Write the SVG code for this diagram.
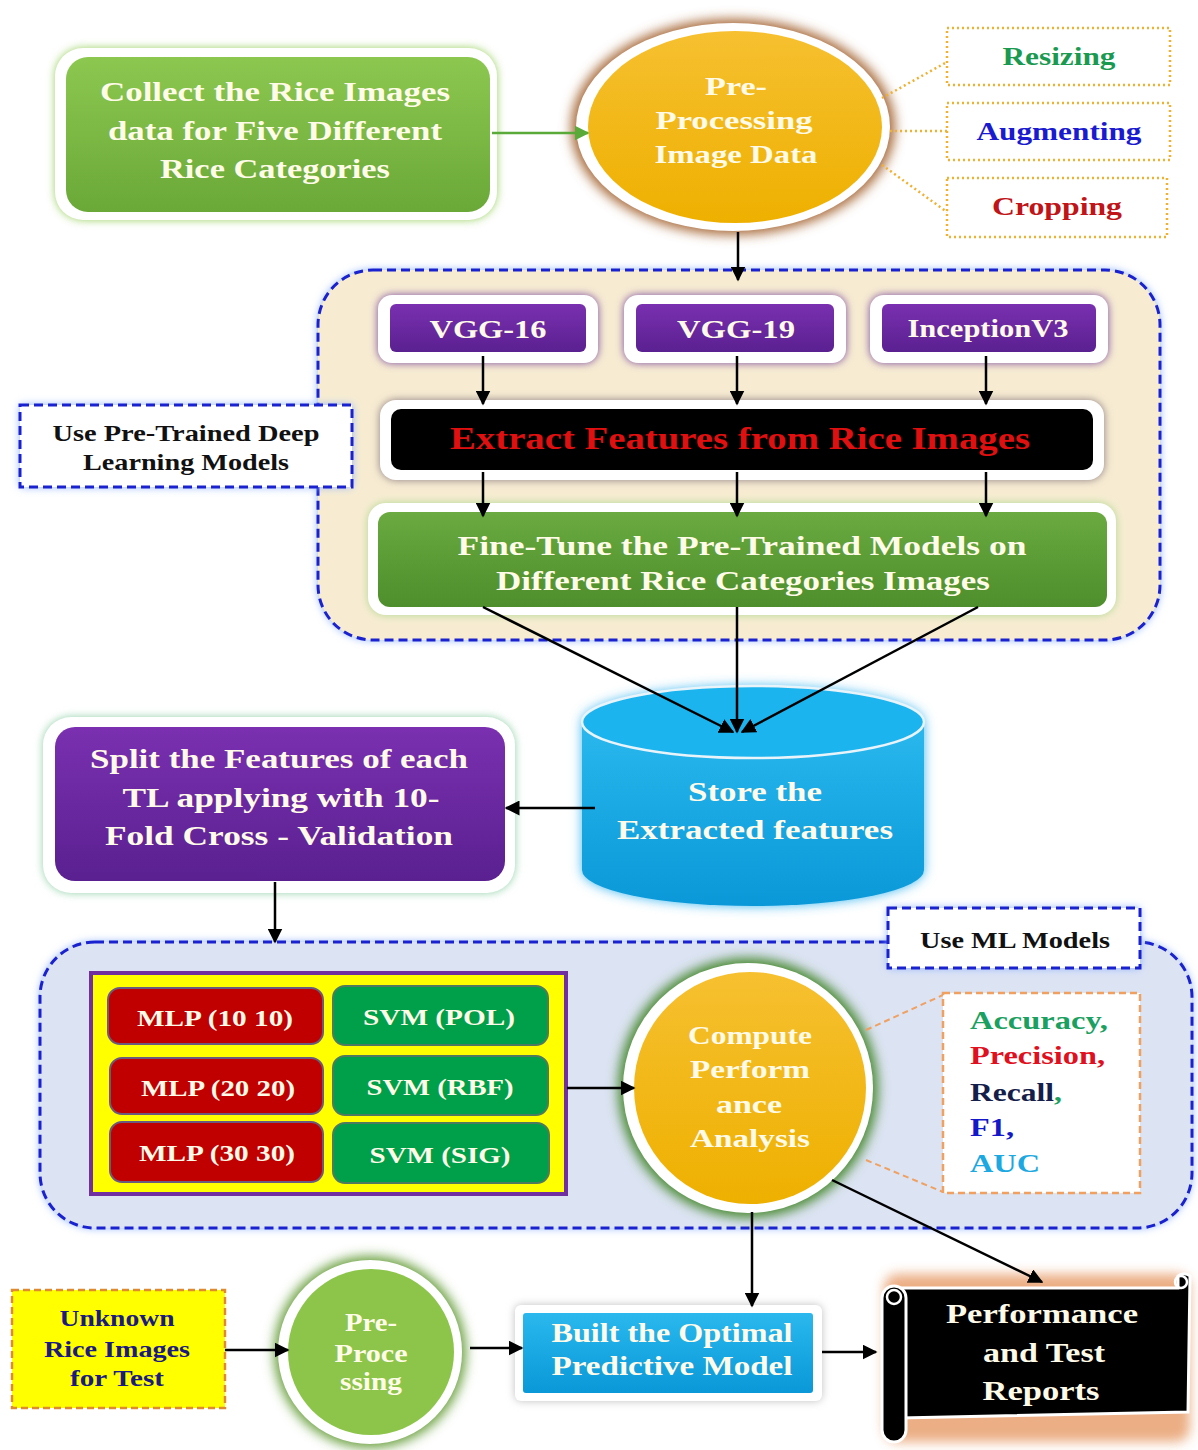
<svg xmlns="http://www.w3.org/2000/svg" width="1198" height="1450" viewBox="0 0 1198 1450">
<defs>
<style>
text{font-family:"Liberation Serif","Times New Roman",serif;font-weight:bold;text-anchor:middle}
.w{fill:#fffbe8}
.k{fill:#111}
.ln{stroke:#000;stroke-width:2.5;fill:none}
.blue-dash{fill:none;stroke:#1a22d0;stroke-width:3;stroke-dasharray:9 5}
.st{text-anchor:start}
</style>
<filter id="glowG" x="-20%" y="-20%" width="140%" height="140%"><feGaussianBlur stdDeviation="6"/></filter>
<filter id="glowS" x="-20%" y="-20%" width="140%" height="140%"><feGaussianBlur stdDeviation="4"/></filter>
<marker id="ah" viewBox="0 0 10 10" refX="9" refY="5" markerWidth="6" markerHeight="6" orient="auto"><path d="M0,0 L10,5 L0,10 z" fill="#000"/></marker>
<marker id="ahg" viewBox="0 0 10 10" refX="9" refY="5" markerWidth="6" markerHeight="6" orient="auto"><path d="M0,0 L10,5 L0,10 z" fill="#5aaa3a"/></marker>
<linearGradient id="gGreen" x1="0" y1="0" x2="0" y2="1"><stop offset="0" stop-color="#8cc850"/><stop offset="1" stop-color="#6aa838"/></linearGradient>
<linearGradient id="gPurple" x1="0" y1="0" x2="0" y2="1"><stop offset="0" stop-color="#7a30b0"/><stop offset="1" stop-color="#5a2090"/></linearGradient>
<linearGradient id="gYellow" x1="0" y1="0" x2="0" y2="1"><stop offset="0" stop-color="#f6c030"/><stop offset="1" stop-color="#eeb000"/></linearGradient>
<linearGradient id="gFine" x1="0" y1="0" x2="0" y2="1"><stop offset="0" stop-color="#6aaa40"/><stop offset="1" stop-color="#4e8e2c"/></linearGradient>
<linearGradient id="gBlue" x1="0" y1="0" x2="0" y2="1"><stop offset="0" stop-color="#2ab8ee"/><stop offset="1" stop-color="#0a98d8"/></linearGradient>
</defs>
<rect width="1198" height="1450" fill="#fff"/>

<!-- containers -->
<g id="container-dl">
<rect x="318" y="270" width="842" height="370" rx="55" fill="#8ab0ff" filter="url(#glowS)"/>
<rect x="318" y="270" width="842" height="370" rx="55" fill="#f7ecd2"/>
<rect x="318" y="270" width="842" height="370" rx="55" class="blue-dash"/>
</g>
<g id="container-ml">
<rect x="40" y="942" width="1152" height="286" rx="55" fill="#8ab0ff" filter="url(#glowS)"/>
<rect x="40" y="942" width="1152" height="286" rx="55" fill="#dce3f3"/>
<rect x="40" y="942" width="1152" height="286" rx="55" class="blue-dash"/>
</g>

<!-- nodes -->
<g id="collect">
<rect x="55" y="48" width="442" height="172" rx="28" fill="#9ad060" filter="url(#glowS)"/>
<rect x="55" y="48" width="442" height="172" rx="28" fill="#fff"/>
<rect x="66" y="57" width="424" height="155" rx="22" fill="url(#gGreen)"/>
<text x="275" y="101" font-size="28" class="w" textLength="350" lengthAdjust="spacingAndGlyphs">Collect the Rice Images</text>
<text x="275" y="140" font-size="28" class="w" textLength="334" lengthAdjust="spacingAndGlyphs">data for Five Different</text>
<text x="275" y="178" font-size="28" class="w" textLength="230" lengthAdjust="spacingAndGlyphs">Rice Categories</text>
</g>

<g id="preprocess">
<ellipse cx="733" cy="127" rx="162" ry="108" fill="#a86a3a" filter="url(#glowG)"/>
<ellipse cx="733" cy="127" rx="157" ry="104" fill="#fff"/>
<ellipse cx="735" cy="127" rx="147" ry="96" fill="url(#gYellow)"/>
<text x="736" y="95" font-size="25" class="w" textLength="62" lengthAdjust="spacingAndGlyphs">Pre-</text>
<text x="734" y="129" font-size="25" class="w" textLength="157" lengthAdjust="spacingAndGlyphs">Processing</text>
<text x="736" y="163" font-size="25" class="w" textLength="163" lengthAdjust="spacingAndGlyphs">Image Data</text>
</g>

<g id="resizing">
<rect x="947" y="28" width="223" height="57" fill="#fff" stroke="#f0b030" stroke-width="2.5" stroke-dasharray="2 3"/>
<text x="1059" y="65" font-size="25" fill="#1a9a50" textLength="113" lengthAdjust="spacingAndGlyphs">Resizing</text>
</g>
<g id="augmenting">
<rect x="947" y="103" width="223" height="57" fill="#fff" stroke="#f0b030" stroke-width="2.5" stroke-dasharray="2 3"/>
<text x="1059" y="140" font-size="25" fill="#1a1ad0" textLength="165" lengthAdjust="spacingAndGlyphs">Augmenting</text>
</g>
<g id="cropping">
<rect x="947" y="178" width="220" height="59" fill="#fff" stroke="#f0b030" stroke-width="2.5" stroke-dasharray="2 3"/>
<text x="1057" y="215" font-size="25" fill="#c01418" textLength="130" lengthAdjust="spacingAndGlyphs">Cropping</text>
</g>

<g id="vgg16">
<rect x="378" y="295" width="220" height="68" rx="14" fill="#7a4aa0" filter="url(#glowS)"/>
<rect x="378" y="295" width="220" height="68" rx="14" fill="#fff"/>
<rect x="390" y="304" width="196" height="48" rx="6" fill="url(#gPurple)"/>
<text x="488" y="338" font-size="26" class="w" textLength="117" lengthAdjust="spacingAndGlyphs">VGG-16</text>
</g>
<g id="vgg19">
<rect x="624" y="295" width="222" height="68" rx="14" fill="#7a4aa0" filter="url(#glowS)"/>
<rect x="624" y="295" width="222" height="68" rx="14" fill="#fff"/>
<rect x="636" y="304" width="198" height="48" rx="6" fill="url(#gPurple)"/>
<text x="736" y="338" font-size="26" class="w" textLength="118" lengthAdjust="spacingAndGlyphs">VGG-19</text>
</g>
<g id="inception">
<rect x="870" y="295" width="238" height="68" rx="14" fill="#7a4aa0" filter="url(#glowS)"/>
<rect x="870" y="295" width="238" height="68" rx="14" fill="#fff"/>
<rect x="882" y="304" width="214" height="48" rx="6" fill="url(#gPurple)"/>
<text x="988" y="337" font-size="26" class="w" font-weight="normal" textLength="161" lengthAdjust="spacingAndGlyphs">InceptionV3</text>
</g>

<g id="extract">
<rect x="380" y="400" width="724" height="80" rx="16" fill="#8a7a80" filter="url(#glowS)"/>
<rect x="380" y="400" width="724" height="80" rx="16" fill="#fff"/>
<rect x="391" y="409" width="702" height="61" rx="10" fill="#000"/>
<text x="740" y="449" font-size="31" fill="#e01010" textLength="580" lengthAdjust="spacingAndGlyphs">Extract Features from Rice Images</text>
</g>

<g id="finetune">
<rect x="368" y="503" width="748" height="112" rx="18" fill="#b0d890" filter="url(#glowS)"/>
<rect x="368" y="503" width="748" height="112" rx="18" fill="#fff"/>
<rect x="378" y="512" width="729" height="95" rx="12" fill="url(#gFine)"/>
<text x="742" y="555" font-size="27" class="w" textLength="569" lengthAdjust="spacingAndGlyphs">Fine-Tune the Pre-Trained Models on</text>
<text x="743" y="590" font-size="27" class="w" textLength="494" lengthAdjust="spacingAndGlyphs">Different Rice Categories Images</text>
</g>

<g id="label-dl">
<rect x="20" y="405" width="332" height="82" fill="#8ab0ff" filter="url(#glowS)"/>
<rect x="20" y="405" width="332" height="82" fill="#fff"/>
<rect x="20" y="405" width="332" height="82" class="blue-dash"/>
<text x="186" y="441" font-size="23" class="k" textLength="267" lengthAdjust="spacingAndGlyphs">Use Pre-Trained Deep</text>
<text x="186" y="470" font-size="23" class="k" textLength="206" lengthAdjust="spacingAndGlyphs">Learning Models</text>
</g>

<g id="store">
<path d="M582,722 L582,870 A171,36 0 0 0 924,870 L924,722 A171,36 0 0 0 582,722 z" fill="#40b8f0" filter="url(#glowG)"/>
<path d="M582,722 L582,870 A171,36 0 0 0 924,870 L924,722" fill="url(#gBlue)"/>
<ellipse cx="753" cy="722" rx="171" ry="36" fill="#1cb4ee" stroke="#e8f4fa" stroke-width="2.5"/>
<text x="755" y="801" font-size="27" class="w" textLength="134" lengthAdjust="spacingAndGlyphs">Store the</text>
<text x="755" y="839" font-size="27" class="w" textLength="276" lengthAdjust="spacingAndGlyphs">Extracted features</text>
</g>

<g id="split">
<rect x="43" y="717" width="472" height="176" rx="28" fill="#90d0a8" filter="url(#glowS)"/>
<rect x="43" y="717" width="472" height="176" rx="28" fill="#fff"/>
<rect x="55" y="727" width="450" height="154" rx="20" fill="url(#gPurple)"/>
<text x="279" y="768" font-size="28" class="w" textLength="378" lengthAdjust="spacingAndGlyphs">Split the Features of each</text>
<text x="281" y="807" font-size="28" class="w" textLength="317" lengthAdjust="spacingAndGlyphs">TL applying with 10-</text>
<text x="279" y="845" font-size="28" class="w" textLength="348" lengthAdjust="spacingAndGlyphs">Fold Cross - Validation</text>
</g>

<g id="label-ml">
<rect x="888" y="908" width="252" height="60" fill="#8ab0ff" filter="url(#glowS)"/>
<rect x="888" y="908" width="252" height="60" fill="#fff"/>
<rect x="888" y="908" width="252" height="60" class="blue-dash"/>
<text x="1015" y="948" font-size="23" class="k" textLength="190" lengthAdjust="spacingAndGlyphs">Use ML Models</text>
</g>

<g id="models">
<rect x="91" y="973" width="475" height="221" fill="#ffff00" stroke="#7030a0" stroke-width="4"/>
</g>
<g id="mlp1"><rect x="108" y="988" width="215" height="56" rx="12" fill="#c00000" stroke="#6a5a80" stroke-width="2"/><text x="215" y="1026" font-size="24" class="w" textLength="156" lengthAdjust="spacingAndGlyphs">MLP (10 10)</text></g>
<g id="svm-pol"><rect x="333" y="986" width="215" height="59" rx="12" fill="#00a04a" stroke="#507a60" stroke-width="2"/><text x="439" y="1025" font-size="24" class="w" textLength="152" lengthAdjust="spacingAndGlyphs">SVM (POL)</text></g>
<g id="mlp2"><rect x="110" y="1058" width="213" height="56" rx="12" fill="#c00000" stroke="#6a5a80" stroke-width="2"/><text x="218" y="1096" font-size="24" class="w" textLength="154" lengthAdjust="spacingAndGlyphs">MLP (20 20)</text></g>
<g id="svm-rbf"><rect x="333" y="1056" width="215" height="59" rx="12" fill="#00a04a" stroke="#507a60" stroke-width="2"/><text x="440" y="1095" font-size="24" class="w" textLength="147" lengthAdjust="spacingAndGlyphs">SVM (RBF)</text></g>
<g id="mlp3"><rect x="110" y="1122" width="213" height="60" rx="12" fill="#c00000" stroke="#6a5a80" stroke-width="2"/><text x="217" y="1161" font-size="24" class="w" textLength="156" lengthAdjust="spacingAndGlyphs">MLP (30 30)</text></g>
<g id="svm-sig"><rect x="333" y="1123" width="216" height="60" rx="12" fill="#00a04a" stroke="#507a60" stroke-width="2"/><text x="440" y="1163" font-size="24" class="w" textLength="141" lengthAdjust="spacingAndGlyphs">SVM (SIG)</text></g>

<g id="compute">
<circle cx="748" cy="1088" r="130" fill="#4a8a30" filter="url(#glowG)"/>
<circle cx="748" cy="1088" r="125" fill="#fff"/>
<circle cx="750" cy="1088" r="116" fill="url(#gYellow)"/>
<text x="750" y="1044" font-size="26" class="w" textLength="124" lengthAdjust="spacingAndGlyphs">Compute</text>
<text x="750" y="1078" font-size="26" class="w" textLength="120" lengthAdjust="spacingAndGlyphs">Perform</text>
<text x="749" y="1113" font-size="26" class="w" textLength="66" lengthAdjust="spacingAndGlyphs">ance</text>
<text x="750" y="1147" font-size="26" class="w" textLength="120" lengthAdjust="spacingAndGlyphs">Analysis</text>
</g>

<g id="metrics">
<rect x="943" y="993" width="197" height="200" fill="#fff" stroke="#f0a060" stroke-width="2.5" stroke-dasharray="7 4"/>
<text x="970" y="1029" font-size="25" fill="#1aa060" class="st" textLength="138" lengthAdjust="spacingAndGlyphs">Accuracy,</text>
<text x="970" y="1064" font-size="25" fill="#e01020" class="st" textLength="135" lengthAdjust="spacingAndGlyphs">Precision,</text>
<text x="970" y="1101" font-size="25" fill="#14204a" class="st" textLength="92" lengthAdjust="spacingAndGlyphs">Recall<tspan fill="#1aa060">,</tspan></text>
<text x="970" y="1136" font-size="25" fill="#1418c8" class="st" textLength="44" lengthAdjust="spacingAndGlyphs">F1,</text>
<text x="970" y="1172" font-size="25" fill="#1ca8e0" class="st" textLength="70" lengthAdjust="spacingAndGlyphs">AUC</text>
</g>

<g id="unknown">
<rect x="12" y="1290" width="213" height="118" fill="#ffff00" stroke="#e08a30" stroke-width="2.5" stroke-dasharray="7 4"/>
<text x="117" y="1326" font-size="23" fill="#1a1a80" textLength="115" lengthAdjust="spacingAndGlyphs">Unknown</text>
<text x="117" y="1357" font-size="23" fill="#1a1a80" textLength="146" lengthAdjust="spacingAndGlyphs">Rice Images</text>
<text x="117" y="1386" font-size="23" fill="#1a1a80" textLength="94" lengthAdjust="spacingAndGlyphs">for Test</text>
</g>

<g id="preproc2">
<circle cx="370" cy="1352" r="96" fill="#6aa040" filter="url(#glowG)"/>
<circle cx="370" cy="1352" r="92" fill="#fff"/>
<circle cx="371" cy="1352" r="83" fill="#8cc54a"/>
<text x="371" y="1331" font-size="25" class="w" textLength="52" lengthAdjust="spacingAndGlyphs">Pre-</text>
<text x="371" y="1362" font-size="25" class="w" textLength="73" lengthAdjust="spacingAndGlyphs">Proce</text>
<text x="371" y="1390" font-size="25" class="w" textLength="62" lengthAdjust="spacingAndGlyphs">ssing</text>
</g>

<g id="built">
<rect x="515" y="1305" width="307" height="96" rx="6" fill="#c0c0c0" filter="url(#glowS)"/>
<rect x="515" y="1305" width="307" height="96" rx="6" fill="#fff"/>
<rect x="523" y="1313" width="290" height="80" rx="3" fill="url(#gBlue)"/>
<text x="672" y="1342" font-size="27" class="w" textLength="241" lengthAdjust="spacingAndGlyphs">Built the Optimal</text>
<text x="672" y="1375" font-size="27" class="w" textLength="241" lengthAdjust="spacingAndGlyphs">Predictive Model</text>
</g>

<g id="reports">
<rect x="884" y="1274" width="306" height="168" rx="14" fill="#e8a070" opacity="0.85" filter="url(#glowG)"/>
<path d="M900,1288 L1178,1288 L1178,1276 a9,9 0 0 1 12,0 L1188,1412 L900,1418 Z" fill="#000" stroke="#fff" stroke-width="3"/>
<rect x="882" y="1286" width="24" height="156" rx="12" fill="#000" stroke="#fff" stroke-width="3"/>
<circle cx="894" cy="1297" r="7" fill="none" stroke="#fff" stroke-width="2.5"/>
<circle cx="1181" cy="1282" r="6" fill="none" stroke="#fff" stroke-width="2.5"/>
<text x="1042" y="1323" font-size="28" class="w" textLength="192" lengthAdjust="spacingAndGlyphs">Performance</text>
<text x="1044" y="1362" font-size="28" class="w" textLength="122" lengthAdjust="spacingAndGlyphs">and Test</text>
<text x="1041" y="1400" font-size="28" class="w" textLength="117" lengthAdjust="spacingAndGlyphs">Reports</text>
</g>

<!-- connectors -->
<g id="connectors">
<line x1="492" y1="133" x2="588" y2="133" stroke="#5aaa3a" stroke-width="2.5" marker-end="url(#ahg)"/>
<g stroke="#f0b030" stroke-width="2.5" stroke-dasharray="2 3" fill="none">
<line x1="882" y1="98" x2="947" y2="62"/>
<line x1="890" y1="131" x2="947" y2="131"/>
<line x1="882" y1="165" x2="947" y2="212"/>
</g>
<line x1="738" y1="232" x2="738" y2="280" class="ln" marker-end="url(#ah)"/>
<line x1="483" y1="356" x2="483" y2="404" class="ln" marker-end="url(#ah)"/>
<line x1="737" y1="356" x2="737" y2="404" class="ln" marker-end="url(#ah)"/>
<line x1="986" y1="356" x2="986" y2="404" class="ln" marker-end="url(#ah)"/>
<line x1="483" y1="472" x2="483" y2="516" class="ln" marker-end="url(#ah)"/>
<line x1="737" y1="472" x2="737" y2="516" class="ln" marker-end="url(#ah)"/>
<line x1="986" y1="472" x2="986" y2="516" class="ln" marker-end="url(#ah)"/>
<line x1="483" y1="607" x2="733" y2="732" class="ln" marker-end="url(#ah)"/>
<line x1="737" y1="607" x2="737" y2="732" class="ln" marker-end="url(#ah)"/>
<line x1="978" y1="607" x2="742" y2="732" class="ln" marker-end="url(#ah)"/>
<line x1="595" y1="808" x2="506" y2="808" class="ln" marker-end="url(#ah)"/>
<line x1="275" y1="882" x2="275" y2="942" class="ln" marker-end="url(#ah)"/>
<line x1="567" y1="1088" x2="634" y2="1088" class="ln" marker-end="url(#ah)"/>
<g stroke="#f0a060" stroke-width="2" stroke-dasharray="6 4" fill="none">
<line x1="866" y1="1030" x2="943" y2="995"/>
<line x1="866" y1="1160" x2="943" y2="1192"/>
</g>
<line x1="752" y1="1212" x2="752" y2="1306" class="ln" marker-end="url(#ah)"/>
<line x1="832" y1="1180" x2="1042" y2="1282" class="ln" marker-end="url(#ah)"/>
<line x1="225" y1="1350" x2="288" y2="1350" class="ln" marker-end="url(#ah)"/>
<line x1="470" y1="1348" x2="522" y2="1348" class="ln" marker-end="url(#ah)"/>
<line x1="822" y1="1352" x2="876" y2="1352" class="ln" marker-end="url(#ah)"/>
</g>
</svg>
